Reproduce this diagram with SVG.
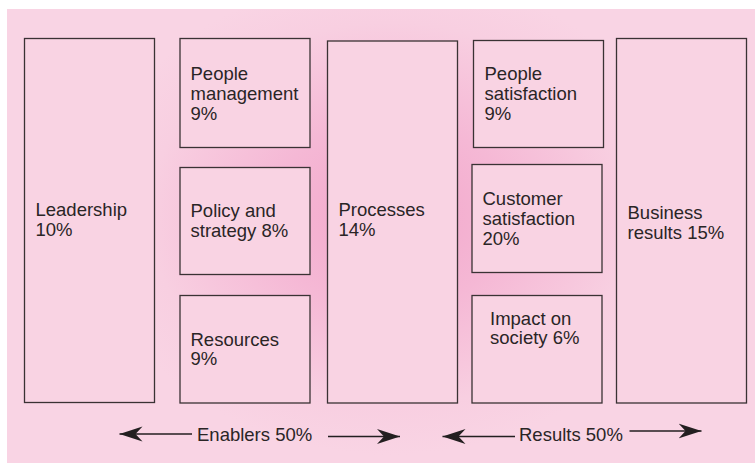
<svg xmlns="http://www.w3.org/2000/svg" width="755" height="463" viewBox="0 0 755 463">
  <defs>
    <radialGradient id="glow" cx="390" cy="215" r="300" gradientUnits="userSpaceOnUse" gradientTransform="translate(390 215) scale(1 0.8) translate(-390 -215)">
      <stop offset="0" stop-color="#f2a6ca"/>
      <stop offset="0.4" stop-color="#f5b8d5"/>
      <stop offset="0.8" stop-color="#f8cfe1"/>
      <stop offset="1" stop-color="#f9d4e4"/>
    </radialGradient>
    <marker id="head" viewBox="0 0 24 16" refX="23" refY="8" markerWidth="24" markerHeight="16" markerUnits="userSpaceOnUse" orient="auto-start-reverse">
      <path d="M23 8 L0 0.5 L7 8 L0 15.5 Z" fill="#231f20"/>
    </marker>
  </defs>
  <style>
    .box { fill: #f9d3e3; stroke: #3a3234; stroke-width: 1.3; }
    .lbl { font-family: "Liberation Sans", Arial, sans-serif; font-size: 18.5px; fill: #2a2526; }
    .conn { stroke: #231f20; stroke-width: 1.3; fill: none; }
  </style>

  <rect x="0" y="0" width="755" height="463" fill="#ffffff"/>
  <rect x="7" y="9" width="748" height="454" fill="url(#glow)"/>

  <g id="leadership">
    <rect class="box" x="24.5" y="38.5" width="130" height="364"/>
    <text class="lbl" x="35.5" y="216">Leadership</text>
    <text class="lbl" x="35.5" y="236">10%</text>
  </g>
  <g id="people-management">
    <rect class="box" x="180" y="38.5" width="130" height="109"/>
    <text class="lbl" x="190.5" y="79.5">People</text>
    <text class="lbl" x="190.5" y="99.5">management</text>
    <text class="lbl" x="190.5" y="119.5">9%</text>
  </g>
  <g id="policy-strategy">
    <rect class="box" x="180" y="167.5" width="130" height="107"/>
    <text class="lbl" x="190.5" y="216.5">Policy and</text>
    <text class="lbl" x="190.5" y="236.5">strategy 8%</text>
  </g>
  <g id="resources">
    <rect class="box" x="180" y="295.5" width="130" height="107.5"/>
    <text class="lbl" x="190.5" y="345.5">Resources</text>
    <text class="lbl" x="190.5" y="365">9%</text>
  </g>
  <g id="processes">
    <rect class="box" x="327.5" y="41" width="130" height="362"/>
    <text class="lbl" x="338.5" y="216">Processes</text>
    <text class="lbl" x="338.5" y="236">14%</text>
  </g>
  <g id="people-satisfaction">
    <rect class="box" x="473.5" y="40.5" width="130" height="107"/>
    <text class="lbl" x="484.5" y="80">People</text>
    <text class="lbl" x="484.5" y="100">satisfaction</text>
    <text class="lbl" x="484.5" y="120">9%</text>
  </g>
  <g id="customer-satisfaction">
    <rect class="box" x="472" y="164.5" width="130" height="108"/>
    <text class="lbl" x="482.5" y="204.5">Customer</text>
    <text class="lbl" x="482.5" y="224.5">satisfaction</text>
    <text class="lbl" x="482.5" y="244.5">20%</text>
  </g>
  <g id="impact-society">
    <rect class="box" x="472" y="295.5" width="130" height="107.5"/>
    <text class="lbl" x="490" y="324.5">Impact on</text>
    <text class="lbl" x="490" y="343.5">society 6%</text>
  </g>
  <g id="business-results">
    <rect class="box" x="616.5" y="38.5" width="130" height="364.5"/>
    <text class="lbl" x="627.5" y="218.5">Business</text>
    <text class="lbl" x="627.5" y="238.5">results 15%</text>
  </g>

  <g id="enablers">
    <text class="lbl" x="197" y="441">Enablers 50%</text>
  </g>
  <g id="results">
    <text class="lbl" x="519" y="441">Results 50%</text>
  </g>

  <g id="connectors">
    <line class="conn" x1="192" y1="434" x2="119.5" y2="434" marker-end="url(#head)"/>
    <line class="conn" x1="328" y1="436.5" x2="400" y2="436.5" marker-end="url(#head)"/>
    <line class="conn" x1="515" y1="436.5" x2="442.5" y2="436.5" marker-end="url(#head)"/>
    <line class="conn" x1="629.5" y1="431" x2="701.5" y2="431" marker-end="url(#head)"/>
  </g>
</svg>
